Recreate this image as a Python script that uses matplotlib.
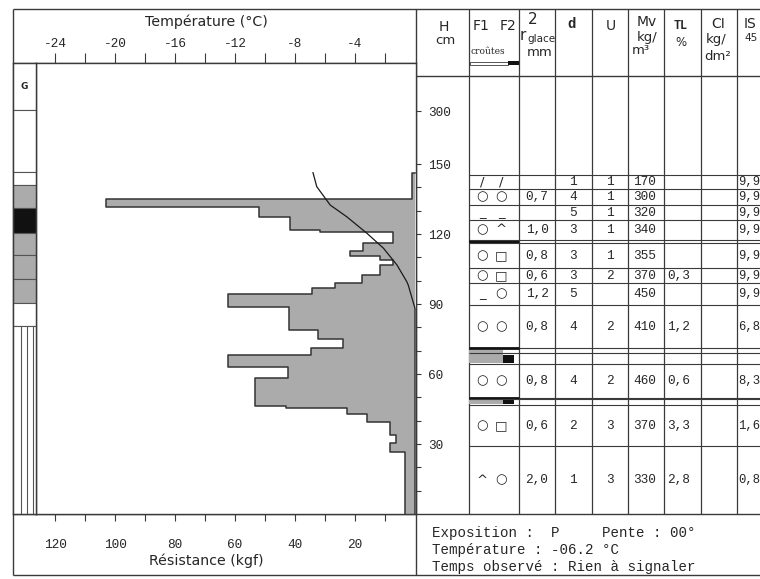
import numpy as np
import matplotlib
matplotlib.use("Agg")
import matplotlib.pyplot as plt

W, H = 760, 579
MONO = "Liberation Mono"
SANS = "DejaVu Sans"
INK = "#262626"
LINE = "#3a3a3a"
GREY = "#ababab"

plt.rcParams["font.family"] = MONO
plt.rcParams["text.color"] = INK

# ram profile: top of each step (cm) and its resistance (kgf); steps run down to 0 cm
ram_top = [146.1, 135.0, 131.4, 127.3, 121.9, 120.9, 116.1, 112.7, 110.6, 108.9,
           106.7, 102.4, 99.0, 96.7, 94.1, 88.8, 78.9, 74.9, 71.0, 68.1,
           63.1, 58.2, 46.3, 45.3, 42.9, 39.6, 33.9, 30.3, 26.7]
ram_kgf = [1, 103, 52, 41.5, 31.5, 7.3, 17.3, 21.7, 11.7, 7.3,
           11.7, 17.7, 26.7, 34.4, 62.2, 42, 32.2, 24, 34.7, 62.2,
           42.2, 53.3, 43, 22.8, 16.1, 8.5, 6.3, 8.5, 3.2]

# temperature profile
temp_h = [146.3, 140.3, 132.4, 127.4, 120.3, 113.9, 106.7, 99.6, 98.1, 88.1, 0]
temp_c = [-6.8, -6.55, -5.65, -4.55, -3.2, -2.1, -1.2, -0.55, -0.45, 0.0, 0.0]

# grain column on the left
strip_top = [436, 302.7, 146.6, 141.0, 131.1, 120.4, 111.0, 100.7, 90.4, 80.6]
strip_fill = ["white", "white", "white", GREY, "#111111", GREY, GREY, GREY, "white", "white"]

# axis ticks
h_ticks = [30, 60, 90, 120, 150, 300]
h_minor = list(range(10, 150, 10))
temp_ticks = list(range(-24, 0, 2))
kgf_ticks = list(range(10, 121, 10))

# table
row_top = [145.3, 139.3, 132.4, 126.0, 116.0, 105.4, 99.0, 89.6, 64.3, 46.7, 29.1]
row_bot = [139.3, 132.4, 126.0, 117.6, 105.4, 99.0, 89.6, 71.0, 49.7, 29.1, 0.0]
crust_top = [117.6, 71.0, 49.7]
crust_bot = [116.0, 64.3, 46.7]
f1 = ["/", "○", "_", "○", "○", "○", "_", "○", "○", "○", "^"]
f2 = ["/", "○", "_", "^", "□", "□", "○", "○", "○", "□", "○"]
r_glace = ["", "0,7", "", "1,0", "0,8", "0,6", "1,2", "0,8", "0,8", "0,6", "2,0"]
d_col = ["1", "4", "5", "3", "3", "3", "5", "4", "4", "2", "1"]
u_col = ["1", "1", "1", "1", "1", "2", "", "2", "2", "3", "3"]
mv_col = ["170", "300", "320", "340", "355", "370", "450", "410", "460", "370", "330"]
tl_col = ["", "", "", "", "", "0,3", "", "1,2", "0,6", "3,3", "2,8"]
is_col = ["9,9"] * 7 + ["6,8", "8,3", "1,6", "0,8"]
col_x = [416, 469, 519, 555, 592, 628, 664, 701, 737]

K = 0.1514  # compression above 150 cm


def fwd(h):
    h = np.asarray(h, dtype=float)
    return np.where(h <= 150, h, 150 + (h - 150) * K)


def inv(d):
    d = np.asarray(d, dtype=float)
    return np.where(d <= 150, d, 150 + (d - 150) / K)


def px_box(x0, y0, x1, y1):
    return [x0 / W, 1 - y1 / H, (x1 - x0) / W, (y1 - y0) / H]


fig = plt.figure(figsize=(W / 100, H / 100), dpi=100)

# frame in pixel coordinates
fr = fig.add_axes([0, 0, 1, 1])
fr.set_xlim(0, W)
fr.set_ylim(H, 0)
fr.axis("off")
lw = 1.0
fr.hlines([9, 575], 13, W, color=LINE, lw=lw)
fr.hlines(514, 13, W, color=LINE, lw=lw)
fr.hlines(63, 13, 416, color=LINE, lw=lw)
fr.hlines(76, 416, W, color=LINE, lw=lw)
fr.vlines([13, 416], 9, 575, color=LINE, lw=lw)
fr.vlines(col_x[1:], 9, 514, color=LINE, lw=0.9)

fr.text(206, 22, "Température (°C)", family=SANS, size=10.2, ha="center", va="center")
fr.text(206, 561, "Résistance (kgf)", family=SANS, size=10.2, ha="center", va="center")

hdr = dict(family=SANS, ha="center", va="center")
fr.text(444, 27, "H", size=10, **hdr)
fr.text(445, 41, "cm", size=9.5, **hdr)
fr.text(481, 26, "F1", size=10, **hdr)
fr.text(508, 26, "F2", size=10, **hdr)
fr.text(488, 51, "croûtes", family="DejaVu Serif", size=6.5, ha="center", va="center")
fr.add_patch(plt.Rectangle((470, 61.5), 38, 3, fc="white", ec=LINE, lw=0.6))
fr.add_patch(plt.Rectangle((508, 61), 11, 4, fc="#111111", ec="none"))
fr.text(533, 19, "2", size=11, **hdr)
fr.text(523, 36, "r", size=11, **hdr)
fr.text(541, 39, "glace", size=7.5, **hdr)
fr.text(540, 52, "mm", size=9.5, **hdr)
fr.text(572, 24, "d", family=MONO, weight="bold", size=10, ha="center", va="center")
fr.text(611, 26, "U", size=10, **hdr)
fr.text(647, 22, "Mv", size=10, **hdr)
fr.text(647, 37, "kg/", size=9.5, **hdr)
fr.text(641, 51, "m³", size=9.5, **hdr)
fr.text(681, 26, "TL", family=MONO, weight="bold", size=8.5, ha="center", va="center")
fr.text(681, 43, "%", size=8.5, **hdr)
fr.text(718, 24, "CI", size=10, **hdr)
fr.text(716, 40, "kg/", size=9.5, **hdr)
fr.text(718, 56, "dm²", size=9.5, **hdr)
fr.text(744, 24, "IS", family=SANS, size=10, ha="left", va="center")
fr.text(744, 38, "45", family=SANS, size=7.5, ha="left", va="center")

foot = dict(size=10.2, ha="left", va="center")
fr.text(432, 533, "Exposition :  P     Pente : 00°", **foot)
fr.text(432, 550, "Température : -06.2 °C", **foot)
fr.text(432, 567, "Temps observé : Rien à signaler", **foot)

# main profile axes
ax = fig.add_axes(px_box(36, 63, 416, 514))
ax.set_yscale("function", functions=(fwd, inv))
ax.set_ylim(0, 436)
ax.set_xlim(126.33, -0.333)

ram_bot = ram_top[1:] + [0.0]
ax.barh(ram_bot, ram_kgf, height=np.subtract(ram_top, ram_bot), left=0,
        align="edge", color=GREY, lw=0)
xs = np.concatenate([[0], np.repeat(ram_kgf, 2)])
ys = np.concatenate([[ram_top[0]], np.column_stack([ram_top, ram_bot]).ravel()])
ax.plot(xs, ys, color="#333333", lw=1.1)

for s in ax.spines.values():
    s.set_color(LINE)
    s.set_linewidth(lw)

ax.yaxis.tick_right()
ax.set_yticks(h_ticks)
ax.set_yticklabels([str(v) for v in h_ticks])
ax.set_yticks(h_minor, minor=True)
ax.tick_params(axis="y", which="both", direction="out", length=3.6, width=0.8,
               pad=5, labelsize=9.2, colors=LINE, labelcolor=INK)

ax.set_xticks(kgf_ticks)
ax.set_xticklabels([str(v) if v % 20 == 0 else "" for v in kgf_ticks])
ax.tick_params(axis="x", direction="out", length=5, width=0.8, pad=13,
               labelsize=9.2, colors=LINE, labelcolor=INK)

# temperature on top
at = ax.twiny()
at.set_xlim(-126.33 / 5, 0.333 / 5)
at.plot(temp_c, temp_h, color="#1a1a1a", lw=0.9)
at.set_xticks(temp_ticks)
at.set_xticklabels([str(v) if v % 4 == 0 else "" for v in temp_ticks])
at.tick_params(axis="x", direction="out", length=7.2, width=0.8, pad=2,
               labelsize=9.2, colors=LINE, labelcolor=INK)
for s in at.spines.values():
    s.set_visible(False)

# grain strip
ax_s = fig.add_axes(px_box(13, 63, 36, 514), sharey=ax)
ax_s.set_xlim(0, 1)
strip_bot = strip_top[1:] + [0.0]
ax_s.barh(strip_bot, 1, height=np.subtract(strip_top, strip_bot), left=0,
          align="edge", color=strip_fill, edgecolor="#555555", lw=0.8)
ax_s.vlines([0.34, 0.6, 0.86], 0, strip_top[-1], color="#555555", lw=0.8)
g_mid = inv((fwd(strip_top[0]) + fwd(strip_top[1])) / 2)
ax_s.text(0.5, g_mid, "G", family=SANS, weight="bold", size=6.5, ha="center", va="center")
ax_s.tick_params(axis="both", which="both", left=False, right=False, bottom=False,
                 top=False, labelleft=False, labelright=False, labelbottom=False)
for s in ax_s.spines.values():
    s.set_color(LINE)
    s.set_linewidth(lw)

# table body
tb = fig.add_axes(px_box(416, 63, W, 514), sharey=ax)
tb.set_xlim(416, W)
tb.axis("off")
bounds = sorted(set(row_top + row_bot + crust_top + crust_bot) - {0.0})
tb.hlines(bounds, 469, W, color=LINE, lw=0.8)
for i, (t, b) in enumerate(zip(crust_top, crust_bot)):
    if i == 0:
        tb.barh(b, 50, height=t - b, left=469, align="edge", color="#111111", lw=0)
    else:
        tb.hlines(t, 469, 519, color="#111111", lw=2)
        tb.hlines((t + b) / 2 + 1.2, 469, W, color=LINE, lw=0.8)
        tb.barh(b + 0.3, 34, height=t - b - 1.2, left=469, align="edge", color=GREY, lw=0)
        tb.barh(b + 0.3, 11, height=(t - b) * 0.55, left=503, align="edge",
                color="#111111", lw=0)

for i in range(len(row_top)):
    y = (row_top[i] + row_bot[i]) / 2
    tb.text(482, y, f1[i], family=SANS, size=9.5, ha="center", va="center")
    tb.text(501, y, f2[i], family=SANS, size=9.5, ha="center", va="center")
    tb.text(537, y, r_glace[i], size=9.2, ha="center", va="center")
    tb.text(573, y, d_col[i], size=9.2, ha="center", va="center")
    tb.text(610, y, u_col[i], size=9.2, ha="center", va="center")
    tb.text(633, y, mv_col[i], size=9.2, ha="left", va="center")
    tb.text(667, y, tl_col[i], size=9.2, ha="left", va="center")
    tb.text(738, y, is_col[i], size=8.8, ha="left", va="center")

fig.savefig("out.png", dpi=100)
